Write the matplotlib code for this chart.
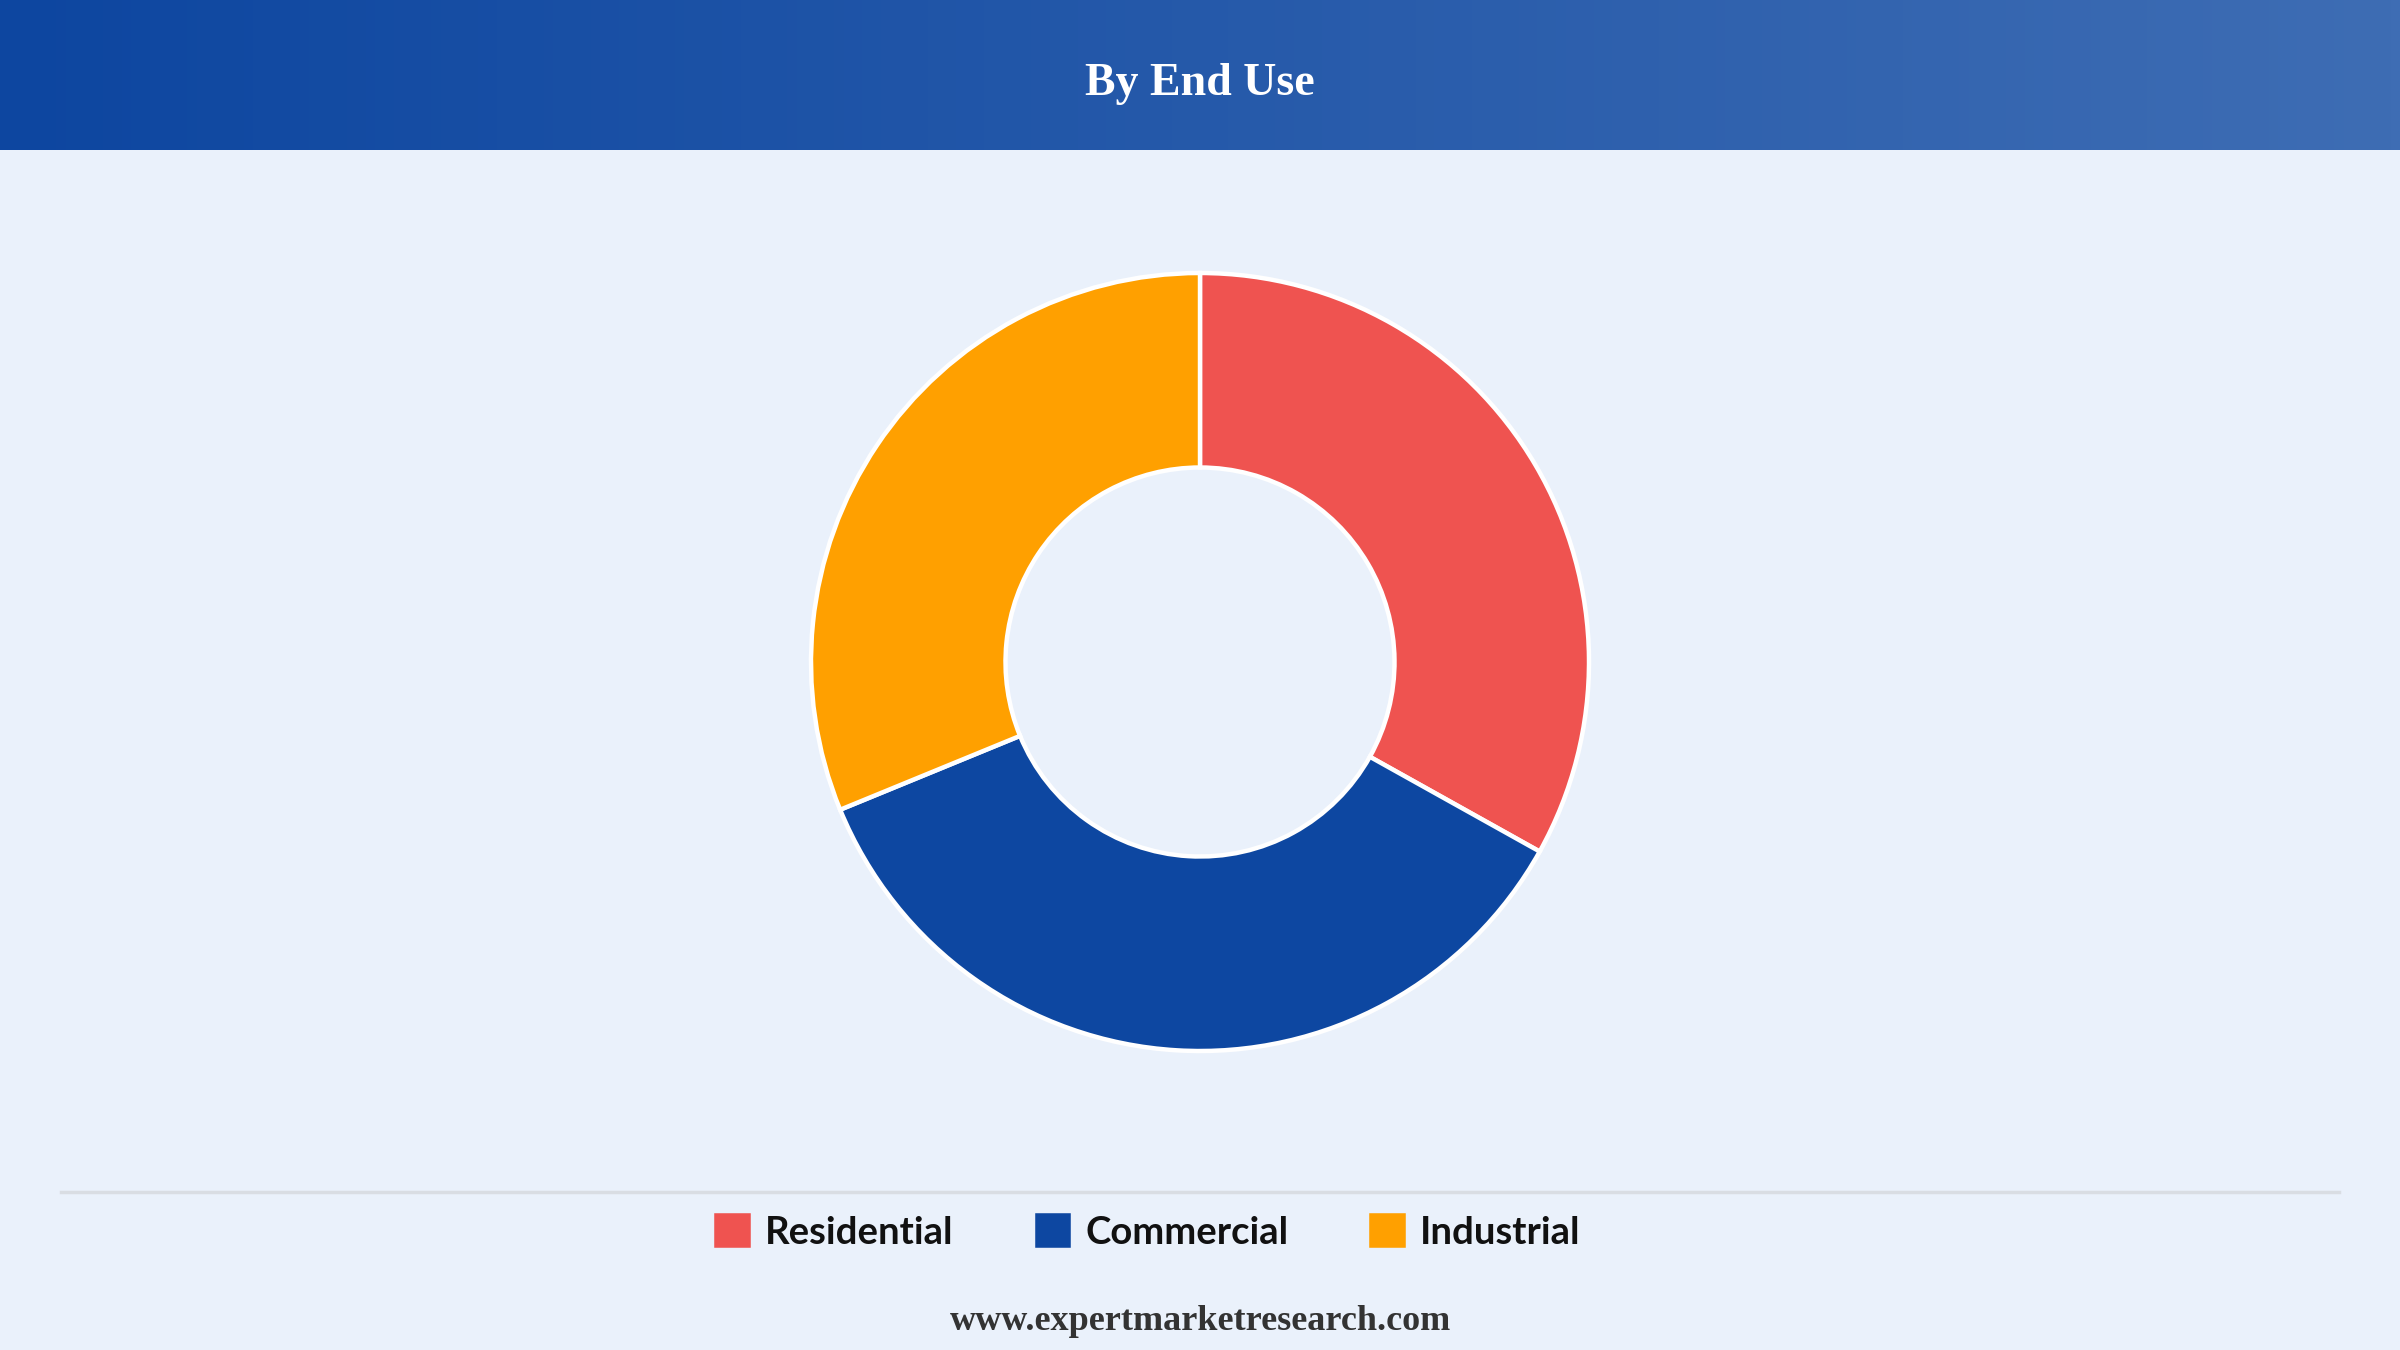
import numpy as np
import matplotlib
matplotlib.use("Agg")
import matplotlib.pyplot as plt
from matplotlib.patches import Patch
from matplotlib.colors import LinearSegmentedColormap

# data (share, %)
labels = ["Residential", "Commercial", "Industrial"]
shares = [33.1, 35.7, 31.2]
colors = ["#EF5350", "#0D47A1", "#FFA000"]

title = "By End Use"
source = "www.expertmarketresearch.com"

W, H = 2400, 1350
bg = "#EAF1FB"

fig = plt.figure(figsize=(W / 100, H / 100), dpi=100, facecolor=bg)

# header band with left-to-right gradient
hdr = fig.add_axes([0, 1 - 150 / H, 1, 150 / H])
cmap = LinearSegmentedColormap.from_list("hdr", ["#0D46A0", "#3E6DB4"])
hdr.imshow(np.linspace(0, 1, 256).reshape(1, -1), cmap=cmap, aspect="auto",
           extent=[0, 1, 0, 1])
hdr.set_axis_off()
fig.text(0.5, 1 - 84 / H, title, ha="center", va="center", color="white",
         fontsize=33, fontweight="bold", family="Liberation Serif")

# donut
cx, cy, r = 1200, 662, 389
ax = fig.add_axes([(cx - r) / W, (H - cy - r) / H, 2 * r / W, 2 * r / H])
ax.set_facecolor("none")
wedges, _ = ax.pie(shares, colors=colors, startangle=90, counterclock=False,
                   radius=1, wedgeprops=dict(width=0.5, edgecolor="white",
                                             linewidth=3.2))
for w in wedges:
    w.set_clip_on(False)
ax.set_xlim(-1, 1)
ax.set_ylim(-1, 1)
ax.set_aspect("equal")
ax.set_axis_off()

# separator line above legend
fig.add_artist(plt.Line2D([61 / W, 1 - 61 / W], [1 - 1192 / H] * 2,
                          color="#D9DDE3", linewidth=2.5))

# legend
handles = [Patch(facecolor=c, edgecolor=c, linewidth=4, joinstyle="round")
           for c in colors]
leg = fig.legend(handles, labels, loc="center", ncol=3,
                 bbox_to_anchor=(1149 / W, 1 - 1233 / H), frameon=False,
                 prop=dict(family="Lato", weight="bold", size=27.5),
                 handlelength=0.8, handleheight=0.8, handletextpad=0.45,
                 columnspacing=2.2)
for t in leg.get_texts():
    t.set_color("#111111")

fig.text(0.5, 1 - 1321 / H, source, ha="center", va="center", color="#333333",
         fontsize=26, fontweight="bold", family="Liberation Serif")

fig.savefig("out.png", dpi=100, facecolor=bg)
